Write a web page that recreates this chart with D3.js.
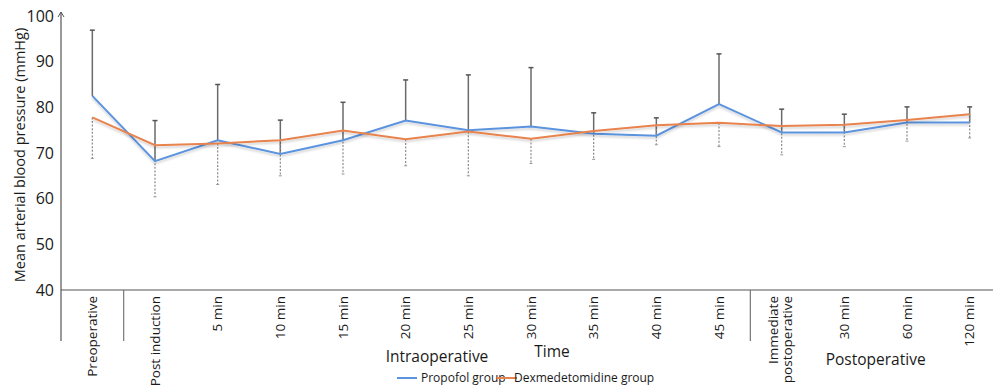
<!DOCTYPE html>
<html>
<head>
<meta charset="utf-8">
<script src="https://cdn.jsdelivr.net/npm/d3@7"></script>
<style>
  html, body { margin: 0; padding: 0; background: #fff; }
  svg { display: block; font-family: "Open Sans", "Noto Sans", sans-serif; }
</style>
</head>
<body>
<svg id="chart" width="993" height="386"></svg>
<script>
// Time points along the x axis
const categories = ["Preoperative", "Post induction", "5 min", "10 min", "15 min", "20 min",
  "25 min", "30 min", "35 min", "40 min", "45 min", "Immediate postoperative",
  "30 min ", "60 min", "120 min"];

// Mean arterial pressure (mmHg), mean and SD per group
const propofolMean = [82.5, 68.2, 72.8, 69.8, 72.8, 77.1, 75.0, 75.8, 74.2, 73.8, 80.7, 74.5, 74.5, 76.7, 76.7];
const propofolSD   = [14.4, 8.9, 12.2, 7.4, 8.3, 8.9, 12.1, 12.9, 4.6, 3.9, 11.0, 5.1, 4.0, 3.4, 3.4];
const dexMean      = [77.8, 71.7, 72.1, 72.8, 74.9, 73.0, 74.7, 73.1, 74.8, 76.1, 76.6, 75.9, 76.2, 77.2, 78.5];
const dexSD        = [9.0, 11.3, 9.0, 7.8, 9.5, 5.8, 9.7, 5.4, 6.2, 4.3, 5.2, 6.3, 4.8, 4.6, 5.2];

// Period groupings (index ranges into categories)
const periods = [
  { name: "", from: 0, to: 0 },
  { name: "Intraoperative", from: 1, to: 10 },
  { name: "Postoperative", from: 11, to: 14 }
];

const yTicks = [40, 50, 60, 70, 80, 90, 100];
const seriesNames = ["Propofol group", "Dexmedetomidine group"];
const seriesColors = ["#5b93de", "#e8834e"];

const svg = d3.select("#chart");
const axisColor = "#555";
const textColor = "#1a1a1a";

const x = d3.scaleBand().domain(categories).range([61, 1001]);
const cx = (i) => x(categories[i]) + x.bandwidth() / 2;
const y = d3.scaleLinear().domain([40, 100]).range([290, 16]);

// soft shadow under the data lines
const defs = svg.append("defs");
const f = defs.append("filter").attr("id", "shadow").attr("x", "-5%").attr("y", "-20%").attr("width", "110%").attr("height", "160%");
f.append("feDropShadow").attr("dx", 0).attr("dy", 2).attr("stdDeviation", 1.2)
  .attr("flood-color", "#000").attr("flood-opacity", 0.18);

// Y axis
const yAxis = d3.axisLeft(y).tickValues(yTicks).tickSize(0).tickPadding(7);
const gy = svg.append("g").attr("transform", "translate(61,0)").call(yAxis);
gy.select(".domain").remove();
gy.selectAll("text").attr("font-size", 16).attr("fill", textColor).attr("font-family", "'Open Sans', sans-serif");
svg.append("line").attr("x1", 61).attr("x2", 61).attr("y1", 12).attr("y2", 341)
  .attr("stroke", axisColor).attr("stroke-width", 1.2);
svg.append("path").attr("d", "M58,17 L61,12 L64,17").attr("fill", "none")
  .attr("stroke", axisColor).attr("stroke-width", 1);

// X axis line
svg.append("line").attr("x1", 61).attr("x2", 993).attr("y1", y(40)).attr("y2", y(40))
  .attr("stroke", axisColor).attr("stroke-width", 1.2);

// period separators below the axis
periods.slice(1).forEach(p => {
  const sx = x(categories[p.from]);
  svg.append("line").attr("x1", sx).attr("x2", sx).attr("y1", y(40)).attr("y2", 341)
    .attr("stroke", "#777").attr("stroke-width", 1.2);
});

// category labels (rotated)
categories.forEach((c, i) => {
  const lines = c.trim() === "Immediate postoperative" ? ["Immediate", "postoperative"] : [c.trim()];
  const t = svg.append("text")
    .attr("transform", `translate(${cx(i)},296) rotate(-90)`)
    .attr("text-anchor", "end").attr("font-size", 13.5).attr("fill", textColor);
  lines.forEach((l, k) => {
    t.append("tspan").attr("x", 0)
      .attr("dy", lines.length === 1 ? "0.35em" : (k === 0 ? "-0.25em" : "1.0em"))
      .text(l);
  });
});

// period names
periods.filter(p => p.name).forEach(p => {
  const mid = (x(categories[p.from]) + x(categories[p.to]) + x.bandwidth()) / 2;
  svg.append("text").attr("x", mid).attr("y", p.name === "Intraoperative" ? 362 : 365)
    .attr("text-anchor", "middle").attr("font-size", 15.5).attr("fill", textColor).text(p.name);
});

// axis titles
svg.append("text").attr("x", 552).attr("y", 357).attr("text-anchor", "middle")
  .attr("font-size", 15.5).attr("fill", textColor).text("Time");
svg.append("text").attr("transform", "translate(20,155) rotate(-90)")
  .attr("text-anchor", "middle").attr("dy", "0.35em").attr("font-size", 14.5).attr("fill", textColor)
  .text("Mean arterial blood pressure (mmHg)");

// error bars: propofol +SD (solid), dexmedetomidine -SD (dashed)
const eb = svg.append("g");
categories.forEach((c, i) => {
  const px = cx(i);
  eb.append("line").attr("x1", px).attr("x2", px)
    .attr("y1", y(propofolMean[i])).attr("y2", y(propofolMean[i] + propofolSD[i]))
    .attr("stroke", "#6a6a6a").attr("stroke-width", 1.5);
  eb.append("line").attr("x1", px - 2.5).attr("x2", px + 2.5)
    .attr("y1", y(propofolMean[i] + propofolSD[i])).attr("y2", y(propofolMean[i] + propofolSD[i]))
    .attr("stroke", "#555").attr("stroke-width", 1.5);
  eb.append("line").attr("x1", px).attr("x2", px)
    .attr("y1", y(dexMean[i])).attr("y2", y(dexMean[i] - dexSD[i]))
    .attr("stroke", "#8a8a8a").attr("stroke-width", 1.2).attr("stroke-dasharray", "2,1.6");
  eb.append("line").attr("x1", px - 1.5).attr("x2", px + 1.5)
    .attr("y1", y(dexMean[i] - dexSD[i])).attr("y2", y(dexMean[i] - dexSD[i]))
    .attr("stroke", "#999").attr("stroke-width", 1);
});

// data lines
const line = d3.line().x((d, i) => cx(i)).y(d => y(d));
[propofolMean, dexMean].forEach((s, k) => {
  svg.append("path").datum(s).attr("d", line).attr("fill", "none")
    .attr("stroke", seriesColors[k]).attr("stroke-width", 2)
    .attr("stroke-linejoin", "miter").attr("filter", "url(#shadow)");
});

// legend
const legend = [{ x1: 397, tx: 421 }, { x1: 497, tx: 514 }];
seriesNames.forEach((n, k) => {
  svg.append("line").attr("x1", legend[k].x1).attr("x2", legend[k].x1 + 20)
    .attr("y1", 378).attr("y2", 378).attr("stroke", seriesColors[k]).attr("stroke-width", 2);
  svg.append("text").attr("x", legend[k].tx).attr("y", 378).attr("dy", "0.35em")
    .attr("font-size", 12).attr("fill", textColor).text(n);
});
</script>
</body>
</html>
